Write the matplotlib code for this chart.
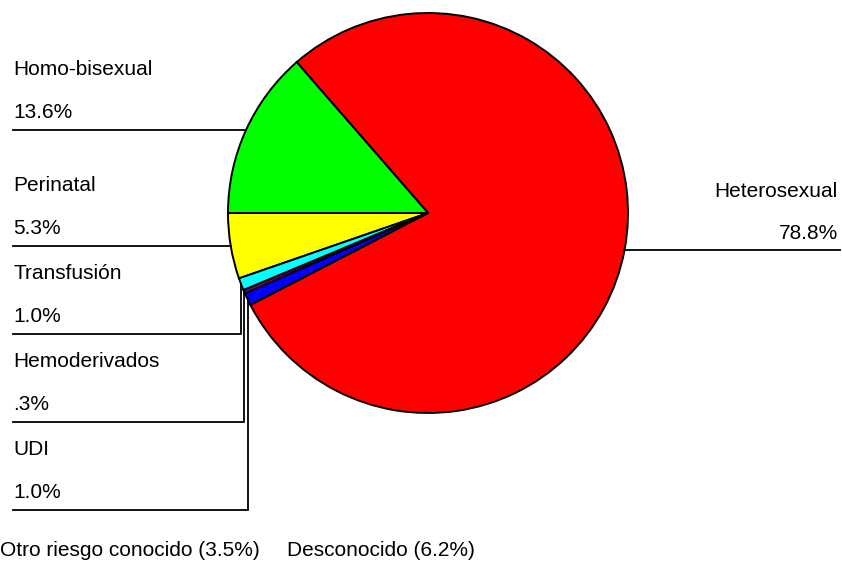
import numpy as np
import matplotlib
matplotlib.use("Agg")
import matplotlib.pyplot as plt

plt.rcParams['font.family'] = ['Liberation Sans', 'DejaVu Sans']

categories = ["Heterosexual", "Homo-bisexual", "Perinatal", "Transfusión", "Hemoderivados", "UDI"]
pct_labels = ["78.8%", "13.6%", "5.3%", "1.0%", ".3%", "1.0%"]
values = [78.8, 13.6, 5.3, 1.0, 0.3, 1.0]
colors = ["#ff0000", "#00ff00", "#ffff00", "#00ffff", "#800080", "#0000ff"]
footnotes = ["Otro riesgo conocido (3.5%)", "Desconocido (6.2%)"]

W, H = 842, 585
fig = plt.figure(figsize=(W / 100, H / 100), dpi=100)
ax = fig.add_axes([0, 0, 1, 1])

cx, cy, R = 428, H - 213, 200
start = 180 + sum(values[2:]) * 3.6
wedges, _ = ax.pie(values, colors=colors, startangle=start, counterclock=True,
                   center=(cx, cy), radius=R,
                   wedgeprops=dict(edgecolor="black", linewidth=1.4))
ax.set_xlim(0, W)
ax.set_ylim(0, H)
ax.set_aspect("equal")
ax.axis("off")

fs = 15
lw = 1.3
# left-side labels
prev_y = None
for i in range(1, len(values)):
    w = wedges[i]
    mid = np.deg2rad((w.theta1 + w.theta2) / 2)
    ex, ey = cx + R * np.cos(mid), cy + R * np.sin(mid)
    ly = ey if prev_y is None else min(ey, prev_y - 88)
    prev_y = ly
    xs = [13, ex] if abs(ly - ey) < 1 else [13, ex, ex]
    ys = [ly, ly] if abs(ly - ey) < 1 else [ly, ly, ey]
    ax.plot(xs, ys, color="black", lw=lw, solid_joinstyle="miter")
    ax.text(13, ly + 63, categories[i], fontsize=fs, ha="left", va="center_baseline")
    ax.text(13, ly + 20, pct_labels[i], fontsize=fs, ha="left", va="center_baseline")

# right-side label (Heterosexual)
w = wedges[0]
mid = np.deg2rad((w.theta1 + w.theta2) / 2)
ex, ey = cx + R * np.cos(mid), cy + R * np.sin(mid)
ax.plot([ex, 840], [ey, ey], color="black", lw=lw)
ax.text(838, ey + 61, categories[0], fontsize=fs, ha="right", va="center_baseline")
ax.text(838, ey + 19, pct_labels[0], fontsize=fs, ha="right", va="center_baseline")

# footnotes
ax.text(0, H - 549, footnotes[0], fontsize=fs, ha="left", va="center_baseline")
ax.text(287, H - 549, footnotes[1], fontsize=fs, ha="left", va="center_baseline")

fig.savefig("out.png", dpi=100)
